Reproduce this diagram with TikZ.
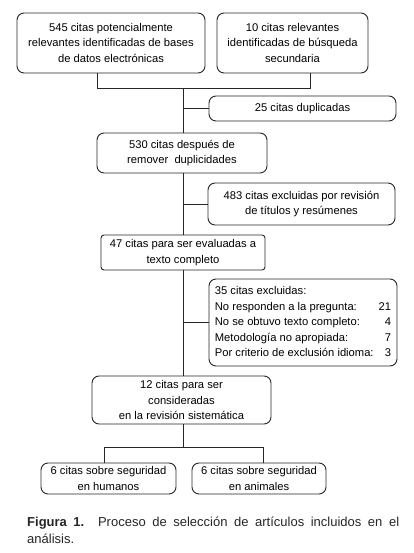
\documentclass[tikz,border=0pt]{standalone}
\usepackage{fontspec}
\setmainfont{Liberation Sans}
\usetikzlibrary{calc}
\tikzset{
  box/.style={draw=black!85, line width=0.9pt, rounded corners=7pt, align=center,
    inner sep=0pt, font=\fontsize{11.2}{15.5}\selectfont},
  sqbox/.style={box, rounded corners=3pt},
  conn/.style={draw=black!85, line width=0.8pt}
}
\begin{document}
\begin{tikzpicture}[x=1pt,y=-1pt]
\useasboundingbox (0,0) rectangle (413,553);
\node[box, minimum width=188pt, minimum height=60pt] (b1) at (111,43)
  {545 citas potencialmente\\relevantes identificadas de bases\\de datos electrónicas};
\node[box, minimum width=151pt, minimum height=60pt] (b2) at (292.5,43)
  {10 citas relevantes\\identificadas de búsqueda\\secundaria};
\node[box, minimum width=187pt, minimum height=25pt] (dup) at (302.5,108.5)
  {25 citas duplicadas};
\node[box, minimum width=170pt, minimum height=40pt] (b530) at (182,153)
  {530 citas después de\\remover\ \ duplicidades};
\node[box, minimum width=187pt, minimum height=42pt] (e483) at (301.5,204)
  {483 citas excluidas por revisión\\de títulos y resúmenes};
\node[sqbox, minimum width=164pt, minimum height=35pt] (b47) at (183,252.5)
  {47 citas para ser evaluadas a\\texto completo};
\node[box, minimum width=188pt, minimum height=87pt] (e35) at (303,322.5)
  {\begin{tabular}{@{}l@{\hspace{5pt}}r@{}}
   \multicolumn{2}{@{}l}{35 citas excluidas:}\\
   No responden a la pregunta: & 21\\
   No se obtuvo texto completo: & 4\\
   Metodología no apropiada: & 7\\
   Por criterio de exclusión idioma: & 3
   \end{tabular}};
\node[box, minimum width=179pt, minimum height=48pt] (b12) at (181.5,400)
  {12 citas para ser\\consideradas\\en la revisión sistemática};
\node[box, minimum width=135pt, minimum height=31pt] (hum) at (108.5,478.5)
  {6 citas sobre seguridad\\en humanos};
\node[box, minimum width=134pt, minimum height=31pt] (ani) at (259,478.5)
  {6 citas sobre seguridad\\en animales};
% connectors
\coordinate (jl) at (97,88);
\coordinate (jr) at (310,88);
\coordinate (jm) at (183,88);
\coordinate (jb) at (183,447);
\draw[conn] (b1.south -| jl) -- (jl) -- (jr) -- (b2.south -| jr);
\draw[conn] (jm) -- (jm |- b530.north);
\draw[conn] (dup.west) -- (dup.west -| jm);
\draw[conn] (jm |- b530.south) -- (jm |- b47.north);
\draw[conn] (e483.west) -- (e483.west -| jm);
\draw[conn] (jm |- b47.south) -- (jm |- b12.north);
\draw[conn] (e35.west) -- (e35.west -| jm);
\draw[conn] (jm |- b12.south) -- (jb);
\coordinate (hl) at (104,447);
\coordinate (hr) at (263,447);
\draw[conn] (hum.north -| hl) -- (hl) -- (hr) -- (ani.north -| hr);
\node[anchor=north west, inner sep=0pt, text width=372pt, align=justify,
  text=black!85, font=\fontsize{13}{17}\selectfont] (cap) at (27,517)
  {\textbf{Figura 1.} Proceso de selección de artículos incluidos en el\linebreak análisis.};
\end{tikzpicture}
\end{document}
